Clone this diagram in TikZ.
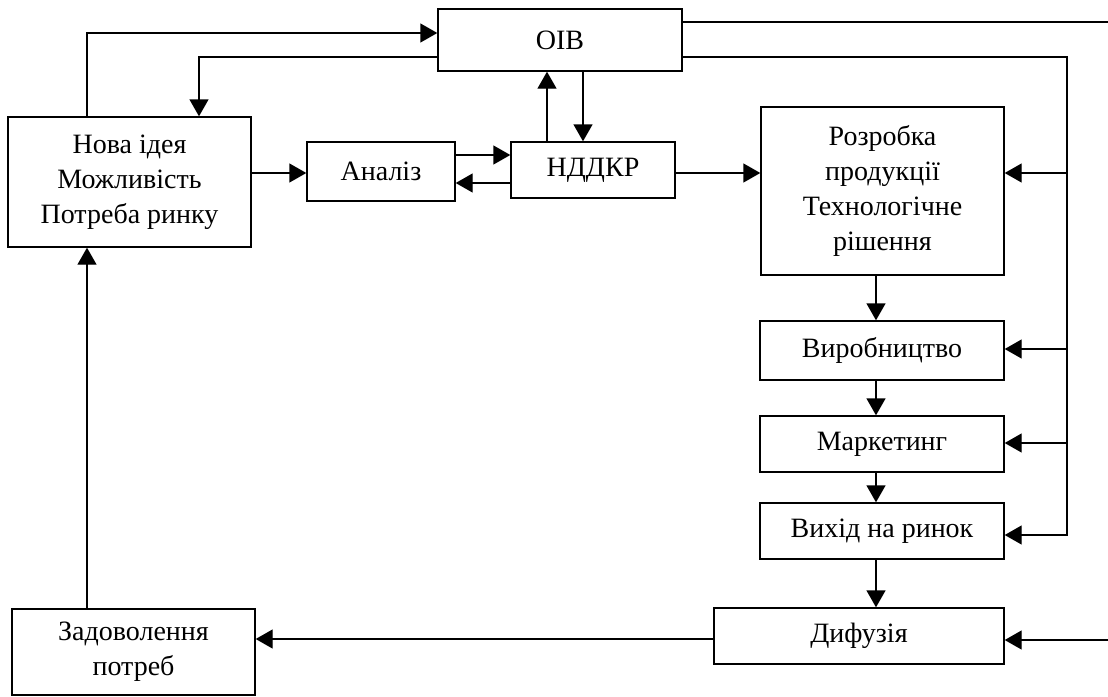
\documentclass[tikz,border=0pt]{standalone}
\usepackage{fontspec}
\setmainfont{Liberation Serif}
\usetikzlibrary{arrows.meta,calc}
\begin{document}
\begin{tikzpicture}[x=1pt,y=-1pt,
  box/.style={draw, line width=1.4pt, inner sep=0pt, align=center,
    font=\fontsize{28}{35}\selectfont},
  arr/.style={line width=1.4pt, -{Triangle[length=17pt,width=19pt]}},
  ln/.style={line width=1.4pt}]
\useasboundingbox (0,0) rectangle (1108,696);
% boxes
\node[box, minimum width=244pt, minimum height=62pt] (oib) at (560,40) {ОІВ};
\node[box, minimum width=243pt, minimum height=130pt] (nova) at (129.5,182) {Нова ідея\\Можливість\\Потреба ринку};
\node[box, minimum width=148pt, minimum height=59pt] (anal) at (381,171.5) {Аналіз};
\node[box, minimum width=164pt, minimum height=56pt] (nddkr) at (593,170) {НДДКР};
\node[box, minimum width=243pt, minimum height=168pt] (rozr) at (882.5,191) {Розробка\\продукції\\Технологічне\\рішення};
\node[box, minimum width=244pt, minimum height=59pt] (vyr) at (882,350.5) {Виробництво};
\node[box, minimum width=244pt, minimum height=56pt] (mark) at (882,444) {Маркетинг};
\node[box, minimum width=244pt, minimum height=56pt] (vykh) at (882,531) {Вихід на ринок};
\node[box, minimum width=290pt, minimum height=56pt] (dyf) at (859,636) {Дифузія};
\node[box, minimum width=243pt, minimum height=86pt] (zad) at (133.5,652) {Задоволення\\потреб};
% helper coordinates
\coordinate (l1) at (87,33);
\coordinate (l2) at (199,57);
\coordinate (a1) at (0,155);
\coordinate (a2) at (0,183);
\coordinate (na) at (0,173);
\coordinate (up) at (547,0);
\coordinate (dn) at (583,0);
\coordinate (cx) at (876,0);
\coordinate (bus) at (1067,57);
\coordinate (top) at (1108,22);
\coordinate (dfin) at (1108,640);
\coordinate (y1) at (0,173);
\coordinate (y2) at (0,349);
\coordinate (y3) at (0,443);
\coordinate (y4) at (0,535);
\coordinate (yd) at (0,639);
% connectors
\draw[arr] (nova.north -| l1) |- (oib.west |- l1);
\draw[arr] (oib.west |- l2) -| (nova.north -| l2);
\draw[arr] (nova.east |- na) -- (anal.west |- na);
\draw[arr] (anal.east |- a1) -- (nddkr.west |- a1);
\draw[arr] (nddkr.west |- a2) -- (anal.east |- a2);
\draw[arr] (nddkr.north -| up) -- (oib.south -| up);
\draw[arr] (oib.south -| dn) -- (nddkr.north -| dn);
\draw[arr] (nddkr.east |- y1) -- (rozr.west |- y1);
\draw[arr] (rozr.south -| cx) -- (vyr.north -| cx);
\draw[arr] (vyr.south -| cx) -- (mark.north -| cx);
\draw[arr] (mark.south -| cx) -- (vykh.north -| cx);
\draw[arr] (vykh.south -| cx) -- (dyf.north -| cx);
\draw[ln] (oib.east |- top) -- (top);
\draw[arr] (oib.east |- bus) -| (bus |- y4) -- (vykh.east |- y4);
\draw[arr] (bus |- y1) -- (rozr.east |- y1);
\draw[arr] (bus |- y2) -- (vyr.east |- y2);
\draw[arr] (bus |- y3) -- (mark.east |- y3);
\draw[arr] (dfin) -- (dyf.east |- dfin);
\draw[arr] (dyf.west |- yd) -- (zad.east |- yd);
\draw[arr] (zad.north -| l1) -- (nova.south -| l1);
\end{tikzpicture}
\end{document}
